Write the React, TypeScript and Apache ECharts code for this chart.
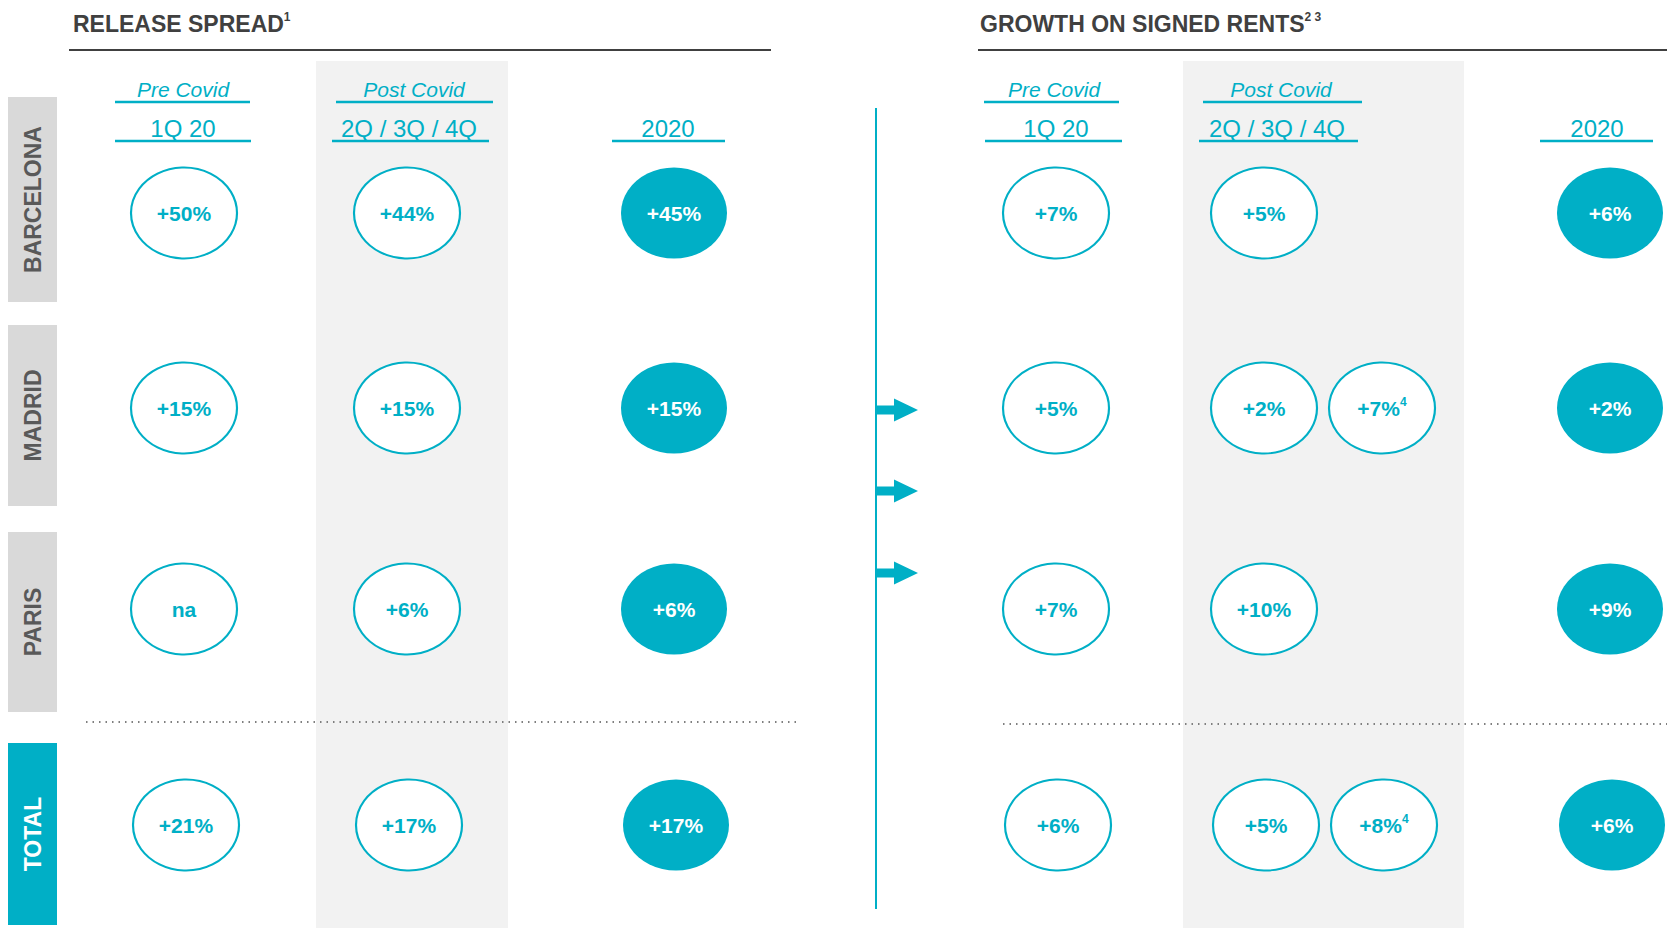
import React, { useEffect, useRef } from "react";
import * as echarts from "echarts";

// ---- data ----
const rowLabels = ["BARCELONA", "MADRID", "PARIS", "TOTAL"];
const releaseHeaders = ["1Q 20", "2Q / 3Q / 4Q", "2020"];
const growthHeaders = ["1Q 20", "2Q / 3Q / 4Q", "2020"];
const phaseLabels = ["Pre Covid", "Post Covid"];
const release1Q20 = ["+50%", "+15%", "na", "+21%"];
const releasePost = ["+44%", "+15%", "+6%", "+17%"];
const release2020 = ["+45%", "+15%", "+6%", "+17%"];
const growth1Q20 = ["+7%", "+5%", "+7%", "+6%"];
const growthPost = ["+5%", "+2%", "+10%", "+5%"];
const growthPostAlt = ["", "+7%", "", "+8%"]; // footnote 4
const growth2020 = ["+6%", "+2%", "+9%", "+6%"];

// ---- layout ----
const W = 1667;
const H = 928;
const TEAL = "#00AFC6";
const FONT = "'Liberation Sans', Arial, sans-serif";
const rowY = [213, 408, 609, 825];
const rowShift = [0, 0, 0, 2];
const rowBox = [
  [97, 302],
  [325, 506],
  [532, 712],
  [743, 925],
];
const leftX = [184, 407, 674];
const rightX = [1056, 1264, 1382, 1610];
const SYM: [number, number] = [106, 91];

export default function App() {
  const ref = useRef<HTMLDivElement>(null);
  useEffect(() => {
    if (!ref.current) return;
    const chart = echarts.init(ref.current, undefined, { renderer: "svg" });

    const outlined: any[] = [];
    const filled: any[] = [];
    rowLabels.forEach((_, i) => {
      const d = rowShift[i];
      outlined.push({ value: [leftX[0] + d, rowY[i]], name: release1Q20[i] });
      outlined.push({ value: [leftX[1] + d, rowY[i]], name: releasePost[i] });
      filled.push({ value: [leftX[2] + d, rowY[i]], name: release2020[i] });
      outlined.push({ value: [rightX[0] + d, rowY[i]], name: growth1Q20[i] });
      outlined.push({ value: [rightX[1] + d, rowY[i]], name: growthPost[i] });
      if (growthPostAlt[i]) outlined.push({ value: [rightX[2] + d, rowY[i]], name: growthPostAlt[i], sup: "4" });
      filled.push({ value: [rightX[3] + d, rowY[i]], name: growth2020[i] });
    });

    const g: any[] = [];
    // gray column backgrounds
    g.push({ type: "rect", shape: { x: 316, y: 61, width: 192, height: H - 61 }, style: { fill: "#F2F2F2" }, z: -10 });
    g.push({ type: "rect", shape: { x: 1183, y: 61, width: 281, height: H - 61 }, style: { fill: "#F2F2F2" }, z: -10 });
    // titles
    const titleRich = {
      t: { fontFamily: FONT, fontWeight: "bold", fontSize: 23, fill: "#404040", lineHeight: 26 },
      s: { fontFamily: FONT, fontWeight: "bold", fontSize: 12, fill: "#404040", lineHeight: 26, verticalAlign: "top", padding: [0, 0, 10, 0] },
    };
    g.push({ type: "text", x: 73, y: 24, style: { text: "{t|RELEASE SPREAD}{s|1}", rich: titleRich, verticalAlign: "middle", align: "left" } });
    g.push({ type: "text", x: 980, y: 24, style: { text: "{t|GROWTH ON SIGNED RENTS}{s|2 3}", rich: titleRich, verticalAlign: "middle", align: "left" } });
    g.push({ type: "line", shape: { x1: 69, y1: 50, x2: 771, y2: 50 }, style: { stroke: "#404040", lineWidth: 2 } });
    g.push({ type: "line", shape: { x1: 978, y1: 50, x2: W, y2: 50 }, style: { stroke: "#404040", lineWidth: 2 } });

    // headers
    const phase = (text: string, cx: number, x1: number, x2: number) => {
      g.push({ type: "text", x: cx, y: 89, style: { text, fontFamily: FONT, fontStyle: "italic", fontSize: 21, fill: TEAL, align: "center", verticalAlign: "middle" } });
      g.push({ type: "line", shape: { x1, y1: 102, x2, y2: 102 }, style: { stroke: TEAL, lineWidth: 2.5 } });
    };
    const period = (text: string, cx: number, x1: number, x2: number) => {
      g.push({ type: "text", x: cx, y: 128, style: { text, fontFamily: FONT, fontSize: 24, fill: TEAL, align: "center", verticalAlign: "middle" } });
      g.push({ type: "line", shape: { x1, y1: 141, x2, y2: 141 }, style: { stroke: TEAL, lineWidth: 2.5 } });
    };
    phase(phaseLabels[0], 183, 115, 250);
    phase(phaseLabels[1], 414, 336, 493);
    period(releaseHeaders[0], 183, 115, 251);
    period(releaseHeaders[1], 409, 332, 489);
    period(releaseHeaders[2], 668, 612, 725);
    phase(phaseLabels[0], 1054, 984, 1119);
    phase(phaseLabels[1], 1281, 1203, 1362);
    period(growthHeaders[0], 1056, 985, 1122);
    period(growthHeaders[1], 1277, 1199, 1358);
    period(growthHeaders[2], 1597, 1540, 1653);

    // row label boxes
    rowLabels.forEach((lab, i) => {
      const [y1, y2] = rowBox[i];
      const isTotal = i === rowLabels.length - 1;
      g.push({ type: "rect", shape: { x: 8, y: y1, width: 49, height: y2 - y1 }, style: { fill: isTotal ? TEAL : "#D9D9D9" } });
      g.push({
        type: "text",
        x: 33,
        y: (y1 + y2) / 2,
        rotation: Math.PI / 2,
        style: { text: lab, fontFamily: FONT, fontWeight: "bold", fontSize: 23, fill: isTotal ? "#FFFFFF" : "#595959", align: "center", verticalAlign: "middle" },
      });
    });

    // dotted separators
    g.push({ type: "line", shape: { x1: 86, y1: 722, x2: 798, y2: 722 }, style: { stroke: "#7F7F7F", lineWidth: 2, lineDash: [1.5, 5] } });
    g.push({ type: "line", shape: { x1: 1003, y1: 724, x2: W, y2: 724 }, style: { stroke: "#7F7F7F", lineWidth: 2, lineDash: [1.5, 5] } });

    // vertical line and arrows
    g.push({ type: "line", shape: { x1: 876, y1: 108, x2: 876, y2: 909 }, style: { stroke: TEAL, lineWidth: 2 } });
    [410, 491, 573].forEach((y) => {
      g.push({
        type: "polygon",
        shape: { points: [[876, y - 4.5], [894, y - 4.5], [894, y - 11.5], [918, y], [894, y + 11.5], [894, y + 4.5], [876, y + 4.5]] },
        style: { fill: TEAL },
      });
    });

    const labelRich = (color: string) => ({
      v: { fontFamily: FONT, fontWeight: "bold", fontSize: 21, color, lineHeight: 24 },
      s: { fontFamily: FONT, fontWeight: "bold", fontSize: 12, color, lineHeight: 24, verticalAlign: "top", padding: [0, 0, 12, 0] },
    });

    chart.setOption({
      animation: false,
      grid: { left: 0, top: 0, width: W, height: H },
      xAxis: { type: "value", min: 0, max: W, show: false },
      yAxis: { type: "value", min: 0, max: H, inverse: true, show: false },
      graphic: g,
      series: [
        {
          type: "scatter",
          symbol: "circle",
          symbolSize: SYM,
          data: outlined,
          itemStyle: { color: "#FFFFFF", borderColor: TEAL, borderWidth: 2, opacity: 1 },
          label: {
            show: true,
            position: "inside",
            formatter: (p: any) => (p.data.sup ? `{v|${p.name}}{s|${p.data.sup}}` : `{v|${p.name}}`),
            rich: labelRich(TEAL),
          },
          emphasis: { disabled: true },
          z: 5,
        },
        {
          type: "scatter",
          symbol: "circle",
          symbolSize: SYM,
          data: filled,
          itemStyle: { color: TEAL, opacity: 1 },
          label: {
            show: true,
            position: "inside",
            formatter: (p: any) => `{v|${p.name}}`,
            rich: labelRich("#FFFFFF"),
          },
          emphasis: { disabled: true },
          z: 5,
        },
      ],
    });
    return () => chart.dispose();
  }, []);
  return <div ref={ref} style={{ position: "fixed", left: 0, top: 0, width: W, height: H, background: "#fff" }} />;
}
